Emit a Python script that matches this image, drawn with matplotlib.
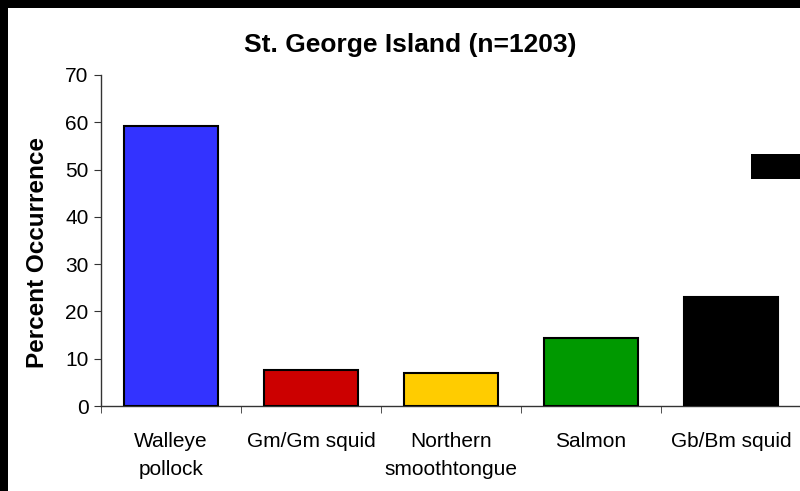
import matplotlib.pyplot as plt
import numpy as np

plt.rcParams['font.family'] = ['Liberation Sans', 'DejaVu Sans']

categories = ['Walleye\npollock', 'Gm/Gm squid', 'Northern\nsmoothtongue', 'Salmon', 'Gb/Bm squid']
values = [59.2, 7.6, 6.9, 14.4, 23.0]
colors = ['#3333FF', '#CC0000', '#FFCC00', '#009900', '#000000']

fig = plt.figure(figsize=(8, 4.91), dpi=100, facecolor='white')
# black frame at left and top
fig.patches.append(plt.Rectangle((0, 0), 8 / 800, 1, transform=fig.transFigure,
                                 facecolor='black', edgecolor='none'))
fig.patches.append(plt.Rectangle((0, 1 - 8 / 491), 1, 8 / 491, transform=fig.transFigure,
                                 facecolor='black', edgecolor='none'))

ax = fig.add_axes([101 / 800, 1 - 406 / 491, 700 / 800, 331 / 491])
x = np.arange(len(categories))
ax.bar(x, values, width=0.67, color=colors, edgecolor='black', linewidth=1.5, zorder=3)

ax.set_xlim(-0.5, len(categories) - 0.5)
ax.set_ylim(0, 70)
ax.set_yticks(range(0, 71, 10))
ax.set_xticks(x)
ax.set_xticklabels(categories, fontsize=15, linespacing=1.6)
ax.set_xticks(np.arange(-0.5, len(categories), 1), minor=True)
ax.tick_params(axis='x', which='major', length=0, pad=19)
ax.tick_params(axis='x', which='minor', length=5, direction='out', color='#333333')
ax.tick_params(axis='y', length=5, labelsize=15, color='#333333', pad=4)
for s in ['top', 'right']:
    ax.spines[s].set_visible(False)
for s in ['left', 'bottom']:
    ax.spines[s].set_color('#333333')
    ax.spines[s].set_linewidth(1.0)

ax.set_ylabel('Percent Occurrence', fontsize=17.5, fontweight='bold')
ax.yaxis.set_label_coords(49 / 800, 1 - 253 / 491, transform=fig.transFigure)
fig.text(410 / 800, 1 - 45 / 491, 'St. George Island (n=1203)', ha='center', va='center',
         fontsize=19, fontweight='bold')

# legend swatch cut off at the right edge
fig.patches.append(plt.Rectangle((751 / 800, 1 - 179 / 491), 60 / 800, 25 / 491,
                                 transform=fig.transFigure, facecolor='black',
                                 edgecolor='none', zorder=5))

fig.savefig('out.png', dpi=100, facecolor=fig.get_facecolor())
